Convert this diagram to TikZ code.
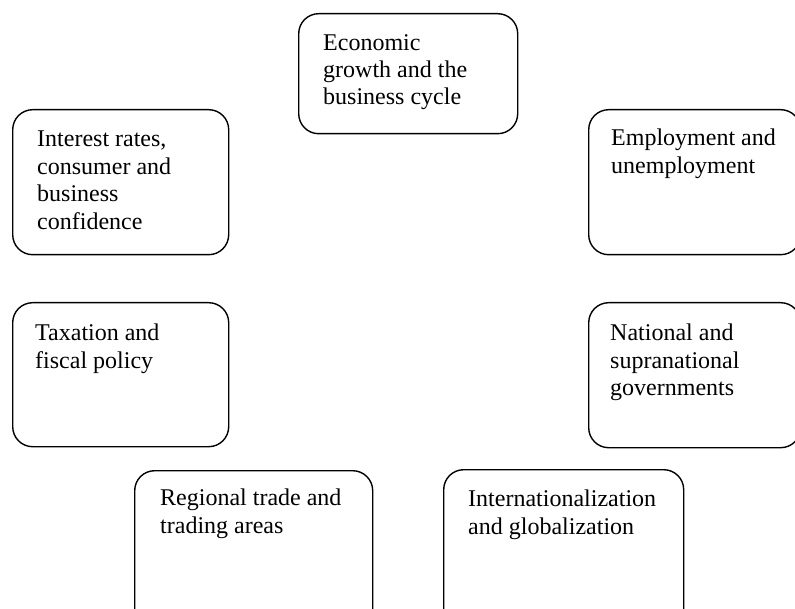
\documentclass[tikz,border=0pt]{standalone}
\usepackage{fontspec}
\setmainfont{Liberation Serif}
\usetikzlibrary{calc}
\begin{document}
\begin{tikzpicture}[x=1pt,y=-1pt,
  topic/.style={draw=black, line width=1.4pt, rounded corners=20pt,
    anchor=north west, inner sep=0pt, fill=white},
  caption/.style={anchor=north west, inner sep=0pt, align=left,
    font=\fontsize{24}{27.4}\selectfont}]
\useasboundingbox (0,0) rectangle (795,609);
\clip (0,0) rectangle (795,609);
% rounded boxes around the central topic
\node[topic, minimum width=219pt, minimum height=120pt] (b1) at (298,13) {};
\node[topic, minimum width=216pt, minimum height=145pt] (b2) at (12,109) {};
\node[topic, minimum width=212pt, minimum height=145pt] (b3) at (588,109) {};
\node[topic, minimum width=216pt, minimum height=144pt] (b4) at (12,302) {};
\node[topic, minimum width=212pt, minimum height=145pt] (b5) at (588,302) {};
\node[topic, minimum width=238pt, minimum height=160pt] (b6) at (134,470) {};
\node[topic, minimum width=240pt, minimum height=160pt] (b7) at (443,469) {};
% labels, set in the upper left corner of each box
\node[caption] (t1) at ($(b1.north west)+(25,21)$) {Economic\\growth and the\\business cycle};
\node[caption] (t2) at ($(b2.north west)+(25,22)$) {Interest rates,\\consumer and\\business\\confidence};
\node[caption] (t3) at ($(b3.north west)+(23,20)$) {Employment and\\unemployment};
\node[caption] (t4) at ($(b4.north west)+(23,22)$) {Taxation and\\fiscal policy};
\node[caption] (t5) at ($(b5.north west)+(22,22)$) {National and\\supranational\\governments};
\node[caption] (t6) at ($(b6.north west)+(26,19)$) {Regional trade and\\trading areas};
\node[caption] (t7) at ($(b7.north west)+(25,21)$) {Internationalization\\and globalization};
\end{tikzpicture}
\end{document}
